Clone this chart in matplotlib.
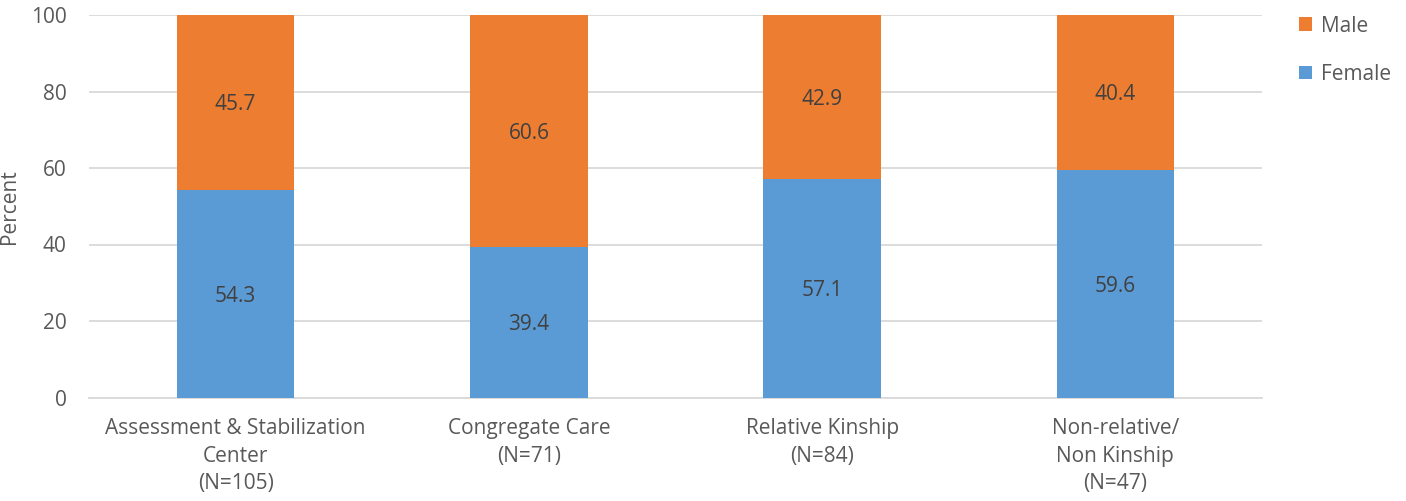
import numpy as np
import matplotlib
matplotlib.use("Agg")
from matplotlib import pyplot as plt

# values
categories = ["Assessment & Stabilization\nCenter\n(N=105)", "Congregate Care\n(N=71)",
              "Relative Kinship\n(N=84)", "Non-relative/\nNon Kinship\n(N=47)"]
female = [54.3, 39.4, 57.1, 59.6]
male = [45.7, 60.6, 42.9, 40.4]
y_ticks = [0, 20, 40, 60, 80, 100]

plt.rcParams['font.family'] = ['Open Sans', 'DejaVu Sans']
text_col = '#595959'
fs = 15

fig = plt.figure(figsize=(14.06, 5.01), dpi=100)
ax = fig.add_axes([89/1406, 1 - 397.5/501, (1262-89)/1406, (397.5-15)/501])

x = np.arange(len(categories))
b1 = ax.bar(x, female, width=0.4, color='#5B9BD5', label='Female', zorder=3)
b2 = ax.bar(x, male, width=0.4, bottom=female, color='#ED7D31', label='Male', zorder=3)

# segment labels in the middle of each piece
for i in range(len(x)):
	ax.text(x[i], female[i]/2, "{:.1f}".format(female[i]), ha='center', va='center_baseline',
			fontsize=fs, color='#404040', zorder=4)
	ax.text(x[i], female[i] + male[i]/2, "{:.1f}".format(male[i]), ha='center', va='center_baseline',
			fontsize=fs, color='#404040', zorder=4)

ax.set_xlim(-0.5, len(categories) - 0.5)
ax.set_ylim(0, 100)
ax.set_yticks(y_ticks)
ax.yaxis.grid(True, color='#D9D9D9', linewidth=1.3, zorder=0)
ax.set_xticks(x)
ax.set_xticklabels(categories, fontsize=fs, color=text_col, linespacing=1.4)
ax.tick_params(axis='y', labelsize=fs, labelcolor=text_col, length=0, pad=16)
ax.tick_params(axis='x', length=0, pad=15)
for s in ['top', 'right', 'left']:
	ax.spines[s].set_visible(False)
ax.spines['bottom'].set_color('#D9D9D9')
ax.spines['bottom'].set_linewidth(1.3)
ax.set_ylabel("Percent", fontsize=fs, color=text_col)
ax.yaxis.set_label_coords(-(89 - 20)/1173, 0.5)

fig.legend(handles=[b2, b1], labels=['Male', 'Female'], loc='upper left',
		   bbox_to_anchor=(1280/1406, 1 + 3/501), frameon=False, fontsize=fs,
		   labelcolor=text_col, handlelength=0.65, handleheight=0.65,
		   handletextpad=0.4, labelspacing=1.3)

fig.savefig("out.png", dpi=100)
